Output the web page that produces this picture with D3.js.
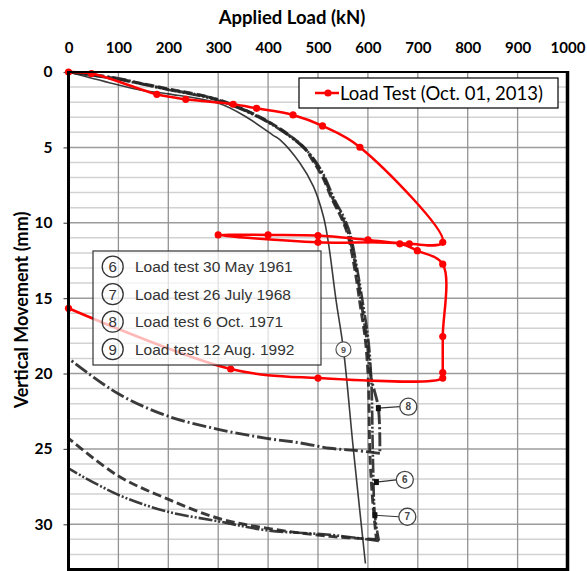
<!DOCTYPE html>
<html lang="en">
<head>
<meta charset="UTF-8">
<title>Load test chart</title>
<script src="https://cdnjs.cloudflare.com/ajax/libs/d3/7.9.0/d3.min.js"></script>
<style>
    body { margin: 0; background: #fff; }
    svg { display: block; }
</style>
</head>
<body>
<div id="chart"></div>
<script>
// load (kN) ticks and settlement (mm) ticks
const loadTicks = [0, 100, 200, 300, 400, 500, 600, 700, 800, 900, 1000];
const moveTicks = [0, 5, 10, 15, 20, 25, 30];

// Load Test (Oct. 01, 2013)
const redLoad = [0, 46, 177, 235, 330, 377, 450, 509, 584, 750, 683, 600, 500, 400, 300, 500, 664, 699, 750, 750, 750, 750, 500, 325, 0];
const redMove = [0, 0.1, 1.48, 1.81, 2.14, 2.41, 2.85, 3.58, 4.99, 11.3, 11.4, 11.14, 10.85, 10.81, 10.81, 11.3, 11.4, 11.85, 12.75, 17.55, 19.94, 20.3, 20.3, 19.7, 15.67];

// old load tests (scanned curves)
const t6Load = [0, 100, 143, 200, 301, 400, 470, 489, 509, 529, 546, 559, 575, 585, 595, 601, 604, 609, 617, 524, 397, 300, 197, 100, 0];
const t6Move = [0, 0.45, 0.74, 1.12, 1.84, 3.28, 4.95, 5.85, 6.96, 8.5, 9.62, 10.72, 13.35, 15.56, 17.8, 20.6, 25.3, 28.2, 31.0, 30.8, 30.26, 29.6, 28.3, 26.8, 24.3];
const t7Load = [0, 100, 143, 200, 301, 400, 470, 493, 513, 533, 551, 564, 580, 591, 601, 607, 610, 614, 622, 524, 397, 300, 197, 100, 0];
const t7Move = [0, 0.5, 0.78, 1.18, 1.9, 3.34, 4.98, 5.82, 6.92, 8.46, 9.58, 10.68, 13.35, 15.56, 17.8, 20.6, 25.5, 29.4, 31.1, 30.7, 30.4, 29.8, 29.15, 28.05, 26.3];
const t8Load = [0, 100, 143, 200, 301, 400, 470, 491, 511, 531, 548, 561, 578, 588, 598, 606, 621, 624, 574, 524, 464, 397, 300, 197, 100, 0];
const t8Move = [0, 0.42, 0.75, 1.15, 1.86, 3.3, 4.95, 5.83, 6.94, 8.49, 9.6, 10.7, 13.35, 15.56, 17.8, 20.2, 22.3, 25.3, 25.1, 24.96, 24.6, 24.3, 23.7, 22.8, 21.35, 19.0];
const t9Load = [0, 100, 143, 200, 301, 357, 410, 424, 464, 491, 511, 521, 536, 551, 571, 595];
const t9Move = [0, 0.86, 1.19, 1.45, 2.08, 3.0, 4.2, 4.5, 6.05, 7.6, 9.6, 11.36, 15.1, 18.4, 25.07, 32.6];

const legendNums = ["6", "7", "8", "9"];
const legendNames = ["Load test 30 May 1961", "Load test 26 July 1968", "Load test 6 Oct. 1971", "Load test 12 Aug. 1992"];

// circled labels on the curves
const annNums = ["8", "6", "7"];
const annMarkLoad = [621, 617, 614];
const annMarkMove = [22.3, 27.2, 29.4];
const annCircLoad = [681, 674, 679];
const annCircMove = [22.2, 27.05, 29.5];
const lab9Load = 551, lab9Move = 18.4;

const W = 587, H = 571;
const svg = d3.select("#chart").append("svg")
    .attr("width", W)
    .attr("height", H);

const x = d3.scaleLinear().domain([0, 1000]).range([68.5, 567.5]);
const y = d3.scaleLinear().domain([0, 33]).range([72, 569.5]);

const AXIS_FONT = "Lato, 'Open Sans', sans-serif";
const SCAN_FONT = "'Liberation Sans', Arial, sans-serif";

// grid
const grid = svg.append("g");
grid.selectAll(".hminor")
    .data(d3.range(1, 33).filter(v => v % 5 !== 0))
    .enter().append("line")
    .attr("x1", x(0)).attr("x2", x(1000))
    .attr("y1", d => y(d)).attr("y2", d => y(d))
    .attr("stroke", "#d2d2d2").attr("stroke-width", 1.5);
grid.selectAll(".hmajor")
    .data(moveTicks.filter(v => v > 0))
    .enter().append("line")
    .attr("x1", x(0)).attr("x2", x(1000))
    .attr("y1", d => y(d)).attr("y2", d => y(d))
    .attr("stroke", "#9c9c9c").attr("stroke-width", 1.5);
grid.selectAll(".vline")
    .data(loadTicks.filter(v => v > 0 && v < 1000))
    .enter().append("line")
    .attr("x1", d => x(d)).attr("x2", d => x(d))
    .attr("y1", y(0)).attr("y2", y(33))
    .attr("stroke", "#939393").attr("stroke-width", 1.3);

// axes
const topAxis = svg.append("g")
    .attr("transform", `translate(0,${y(0)})`)
    .call(d3.axisTop(x).tickValues(loadTicks).tickFormat(d3.format("d")).tickSize(0).tickPadding(19));
topAxis.select(".domain").remove();
topAxis.selectAll("text")
    .style("font-family", AXIS_FONT).style("font-weight", "bold")
    .style("font-size", "15px").attr("fill", "#000");

const leftAxis = svg.append("g")
    .attr("transform", `translate(${x(0)},0)`)
    .call(d3.axisLeft(y).tickValues(moveTicks).tickSize(5).tickPadding(11));
leftAxis.select(".domain").remove();
leftAxis.selectAll("line").attr("stroke", "#555").attr("stroke-width", 1.2);
leftAxis.selectAll("text")
    .style("font-family", AXIS_FONT).style("font-weight", "bold")
    .style("font-size", "15.5px").attr("fill", "#000");

// old curves
const line = d3.line()
    .x(d => x(d[0]))
    .y(d => y(d[1]))
    .curve(d3.curveCatmullRom.alpha(0.5));

const zip = (a, b) => a.map((v, i) => [v, b[i]]);

// split a test at its largest movement so the load / unload corner stays sharp
function splitAtMax(pts) {
    const k = d3.maxIndex(pts, d => d[1]);
    return [pts.slice(0, k + 1), pts.slice(k)];
}

const oldCurves = [
    { pts: zip(t6Load, t6Move), dash: "9,4", w: 2.9 },
    { pts: zip(t7Load, t7Move), dash: "14,2,2,2,2,2", w: 2.6 },
    { pts: zip(t8Load, t8Move), dash: "14,3,2,3", w: 2.9 },
    { pts: zip(t9Load, t9Move), dash: null, w: 1.6 }
];

const oldG = svg.append("g");
oldCurves.forEach(c => {
    splitAtMax(c.pts).forEach(seg => {
        if (seg.length < 2) return;
        oldG.append("path")
            .attr("d", line(seg))
            .attr("fill", "none")
            .attr("stroke", "#262626")
            .attr("stroke-opacity", 0.9)
            .attr("stroke-width", c.w)
            .attr("stroke-dasharray", c.dash);
    });
});

// circled curve labels
const ann = svg.append("g");
annNums.forEach((n, i) => {
    ann.append("line")
        .attr("x1", x(annMarkLoad[i])).attr("y1", y(annMarkMove[i]))
        .attr("x2", x(annCircLoad[i]) - 8.5).attr("y2", y(annCircMove[i]))
        .attr("stroke", "#333").attr("stroke-width", 1.2);
    ann.append("rect")
        .attr("x", x(annMarkLoad[i]) - 2.5).attr("y", y(annMarkMove[i]) - 3)
        .attr("width", 5).attr("height", 6)
        .attr("fill", "#111");
    ann.append("circle")
        .attr("cx", x(annCircLoad[i])).attr("cy", y(annCircMove[i]))
        .attr("r", 8.5)
        .attr("fill", "#fff").attr("stroke", "#444").attr("stroke-width", 1.3);
    ann.append("text")
        .attr("x", x(annCircLoad[i])).attr("y", y(annCircMove[i]) + 3.5)
        .attr("text-anchor", "middle")
        .style("font-family", SCAN_FONT).style("font-size", "10px").style("font-weight", "bold")
        .attr("fill", "#444")
        .text(n);
});
ann.append("circle")
    .attr("cx", x(lab9Load)).attr("cy", y(lab9Move))
    .attr("r", 7.5)
    .attr("fill", "#fff").attr("stroke", "#555").attr("stroke-width", 1.2);
ann.append("text")
    .attr("x", x(lab9Load)).attr("y", y(lab9Move) + 3.2)
    .attr("text-anchor", "middle")
    .style("font-family", SCAN_FONT).style("font-size", "9px").style("font-weight", "bold")
    .attr("fill", "#555")
    .text("9");

// red load test
const redPts = zip(redLoad, redMove);
svg.append("path")
    .datum(redPts)
    .attr("d", line)
    .attr("fill", "none")
    .attr("stroke", "#ff0000")
    .attr("stroke-width", 2.5);
svg.append("g").selectAll("circle")
    .data(redPts)
    .enter().append("circle")
    .attr("cx", d => x(d[0]))
    .attr("cy", d => y(d[1]))
    .attr("r", 3.6)
    .attr("fill", "#ff0000");

// legend of old tests (semi transparent box from the scan)
const lg2 = svg.append("g").attr("transform", "translate(93,251)");
lg2.append("rect")
    .attr("width", 228).attr("height", 114)
    .attr("fill", "#fff").attr("fill-opacity", 0.72)
    .attr("stroke", "#333").attr("stroke-width", 1.2);
legendNums.forEach((n, i) => {
    const cy = 15.7 + i * 27.5;
    lg2.append("circle")
        .attr("cx", 19.7).attr("cy", cy).attr("r", 10.5)
        .attr("fill", "none").attr("stroke", "#333").attr("stroke-width", 1.3);
    lg2.append("text")
        .attr("x", 19.7).attr("y", cy + 5.5)
        .attr("text-anchor", "middle")
        .style("font-family", SCAN_FONT).style("font-size", "15px")
        .attr("fill", "#333")
        .text(n);
    lg2.append("text")
        .attr("x", 42).attr("y", cy + 5.5)
        .style("font-family", SCAN_FONT).style("font-size", "15.5px")
        .attr("fill", "#333")
        .text(legendNames[i]);
});

// frame
const fr = svg.append("g").attr("stroke", "#000").attr("fill", "none");
fr.append("line").attr("x1", x(0)).attr("x2", x(1000)).attr("y1", y(0)).attr("y2", y(0)).attr("stroke-width", 2);
fr.append("line").attr("x1", x(0)).attr("x2", x(1000)).attr("y1", y(33)).attr("y2", y(33)).attr("stroke-width", 3);
fr.append("line").attr("x1", x(0)).attr("x2", x(0)).attr("y1", y(0) - 1).attr("y2", y(33) + 1.5).attr("stroke-width", 3);
fr.append("line").attr("x1", x(1000)).attr("x2", x(1000)).attr("y1", y(0) - 1).attr("y2", y(33) + 1.5).attr("stroke-width", 3.5);

// legend of the new test
const lg1 = svg.append("g").attr("transform", "translate(299,78)");
lg1.append("rect")
    .attr("width", 259).attr("height", 30)
    .attr("fill", "#fff").attr("stroke", "#000").attr("stroke-width", 1.2);
lg1.append("line")
    .attr("x1", 16).attr("x2", 40).attr("y1", 15).attr("y2", 15)
    .attr("stroke", "#ff0000").attr("stroke-width", 2.5);
lg1.append("circle")
    .attr("cx", 29).attr("cy", 15).attr("r", 3.6).attr("fill", "#ff0000");
lg1.append("text")
    .attr("x", 41).attr("y", 21.5)
    .style("font-family", AXIS_FONT).style("font-size", "18.5px")
    .attr("fill", "#000")
    .text("Load Test (Oct. 01, 2013)");

// titles
svg.append("text")
    .attr("x", 292).attr("y", 24)
    .attr("text-anchor", "middle")
    .style("font-family", AXIS_FONT).style("font-weight", "bold").style("font-size", "18.5px")
    .text("Applied Load (kN)");
svg.append("text")
    .attr("transform", "translate(28,310) rotate(-90)")
    .attr("text-anchor", "middle")
    .style("font-family", AXIS_FONT).style("font-weight", "bold").style("font-size", "18px")
    .text("Vertical Movement (mm)");
</script>
</body>
</html>
